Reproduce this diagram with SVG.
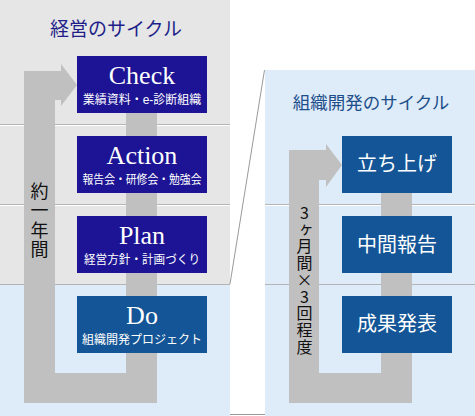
<svg xmlns="http://www.w3.org/2000/svg" width="475" height="416" viewBox="0 0 475 416">
<style>
.bgGray{fill:#e6e6e6}
.bgBlue{fill:#deebf9}
.sep{stroke:#b4b4b4;stroke-width:1}
.sepw{stroke:#ffffff;stroke-width:1}
.arrow{fill:#c0c0c0}
.navy{fill:#1c1494}
.blue{fill:#135596}
.en{font-family:"Liberation Serif","Noto Sans CJK JP",serif;font-size:26px;fill:#ffffff;text-anchor:middle}
.sub{font-family:"Liberation Sans","Noto Sans CJK JP",sans-serif;font-size:12px;fill:#ffffff;text-anchor:middle}
.jp{font-family:"Noto Sans CJK JP",sans-serif;font-size:20px;fill:#ffffff;text-anchor:middle}
.title{font-family:"Liberation Serif","Noto Sans CJK JP",serif;text-anchor:middle}
.vert{font-family:"Noto Sans CJK JP",sans-serif;fill:#111111;writing-mode:vertical-rl;text-orientation:upright}
.thin{stroke:#9a9a9a;stroke-width:1;fill:none}
</style>
<!-- backgrounds -->
<rect class="bgGray" x="0" y="0" width="230" height="285"/>
<rect class="bgBlue" x="0" y="285" width="230" height="131"/>
<rect class="bgBlue" x="265" y="70" width="210" height="346"/>
<line class="sep" x1="0" y1="124.5" x2="230" y2="124.5"/>
<line class="sepw" x1="0" y1="125.5" x2="230" y2="125.5"/>
<line class="sep" x1="0" y1="204.5" x2="230" y2="204.5"/>
<line class="sepw" x1="0" y1="205.5" x2="230" y2="205.5"/>
<line class="sep" x1="0" y1="284.5" x2="230" y2="284.5"/>
<line class="sep" x1="265" y1="204.5" x2="475" y2="204.5"/>
<line class="sepw" x1="265" y1="205.5" x2="475" y2="205.5"/>
<line class="sep" x1="265" y1="284.5" x2="475" y2="284.5"/>
<line class="thin" x1="264.5" y1="70" x2="230" y2="284"/>
<line class="thin" x1="230" y1="414.5" x2="265" y2="414.5"/>
<!-- titles -->
<text class="title" x="116" y="35.5" font-size="19" fill="#1f1f8a">経営のサイクル</text>
<text class="title" x="371" y="109" font-size="17.5" fill="#1d4f8a">組織開発のサイクル</text>
<!-- connectors -->
<g id="connectors">
<path class="arrow" d="M24,403 V71 H61 V64 L77,85 L61,106 V100 H55 V373 H126 V90 H157 V403 Z"/>
<path class="arrow" d="M289,403 V150 H326 V144 L342,165 L326,187 V180 H319 V373 H381 V165 H412 V403 Z"/>
</g>
<text class="vert" x="39.5" y="182" font-size="18" letter-spacing="1.5">約一年間</text>
<text class="vert" x="304.5" y="205" font-size="16" letter-spacing="0.7">3ヶ月間×3回程度</text>
<!-- nodes -->
<g id="check">
<rect class="navy" x="77" y="56" width="130" height="57"/>
<text class="en" x="142" y="84">Check</text>
<text class="sub" x="142" y="104">業績資料・e-診断組織</text>
</g>
<g id="action">
<rect class="navy" x="77" y="136" width="130" height="57"/>
<text class="en" x="142" y="164">Action</text>
<text class="sub" x="142" y="184" textLength="119" lengthAdjust="spacingAndGlyphs">報告会・研修会・勉強会</text>
</g>
<g id="plan">
<rect class="navy" x="77" y="216" width="130" height="57"/>
<text class="en" x="142" y="243.5">Plan</text>
<text class="sub" x="142" y="264" textLength="116" lengthAdjust="spacingAndGlyphs">経営方針・計画づくり</text>
</g>
<g id="do">
<rect class="blue" x="77" y="296" width="130" height="57"/>
<text class="en" x="142" y="323.5">Do</text>
<text class="sub" x="142" y="344">組織開発プロジェクト</text>
</g>
<g id="tachiage">
<rect class="blue" x="342" y="136" width="110" height="57"/>
<text class="jp" x="397" y="171">立ち上げ</text>
</g>
<g id="chukan">
<rect class="blue" x="342" y="216" width="110" height="57"/>
<text class="jp" x="397" y="251.5">中間報告</text>
</g>
<g id="seika">
<rect class="blue" x="342" y="296" width="110" height="57"/>
<text class="jp" x="397" y="331">成果発表</text>
</g>
</svg>
